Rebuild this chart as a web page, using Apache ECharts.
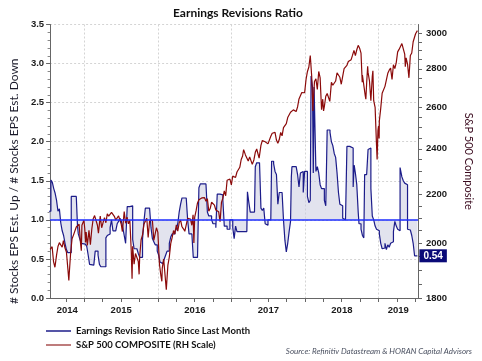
<!DOCTYPE html>
<html><head><meta charset="utf-8">
<script src="https://cdn.jsdelivr.net/npm/echarts@6/dist/echarts.min.js"></script>
<style>html,body{margin:0;padding:0;background:#fff}#c{width:482px;height:361px}</style>
</head><body><div id="c"></div>
<script>
// ---- data ----
const ratioDates = ['2014-07-07','2014-07-18','2014-07-25','2014-08-01','2014-08-08','2014-08-15','2014-08-22','2014-08-29','2014-09-05','2014-09-12','2014-09-19','2014-09-26','2014-10-03','2014-10-10','2014-10-27','2014-11-07','2014-11-21','2014-11-27','2014-12-01','2014-12-08','2014-12-15','2014-12-22','2015-01-05','2015-01-12','2015-01-19','2015-01-26','2015-02-02','2015-02-16','2015-02-23','2015-03-02','2015-03-09','2015-03-16','2015-03-23','2015-04-06','2015-04-17','2015-04-24','2015-05-01','2015-05-08','2015-05-15','2015-05-22','2015-06-05','2015-06-12','2015-06-19','2015-06-26','2015-07-03','2015-07-10','2015-07-17','2015-07-24','2015-08-01','2015-08-14','2015-08-28','2015-09-04','2015-09-18','2015-09-25','2015-10-02','2015-10-09','2015-10-16','2015-10-23','2015-10-30','2015-11-20','2015-11-27','2015-12-04','2015-12-11','2015-12-18','2015-12-28','2016-01-04','2016-01-11','2016-01-18','2016-01-25','2016-02-01','2016-02-08','2016-02-15','2016-02-26','2016-03-04','2016-03-11','2016-03-25','2016-04-01','2016-04-08','2016-04-15','2016-04-22','2016-04-29','2016-05-20','2016-05-27','2016-06-03','2016-06-17','2016-06-24','2016-07-15','2016-07-22','2016-07-29','2016-08-26','2016-09-02','2016-09-09','2016-09-23','2016-09-30','2016-10-14','2016-10-21','2016-11-04','2016-11-18','2016-11-25','2016-12-09','2016-12-23','2017-01-06','2017-01-13','2017-01-20','2017-01-27','2017-03-17','2017-03-20','2017-03-27','2017-04-03','2017-04-24','2017-04-28','2017-05-05','2017-05-19','2017-05-26','2017-06-02','2017-06-09','2017-06-16','2017-06-23','2017-06-30','2017-07-14','2017-07-18','2017-07-28','2017-08-04','2017-08-11','2017-08-18','2017-08-25','2017-09-08','2017-09-15','2017-09-22','2017-09-29','2017-10-06','2017-10-13','2017-10-20','2017-10-24','2017-10-27','2017-11-17','2017-11-24','2017-12-01','2017-12-08','2017-12-15','2017-12-22','2017-12-29','2018-01-05','2018-01-12','2018-01-19','2018-01-26','2018-01-30','2018-02-06','2018-02-10','2018-02-14','2018-02-20','2018-02-23','2018-03-02','2018-03-09','2018-03-16','2018-03-23','2018-04-06','2018-04-13','2018-04-20','2018-05-04','2018-05-11','2018-05-18','2018-05-25','2018-06-01','2018-06-08','2018-06-15','2018-06-22','2018-06-29','2018-07-06','2018-07-13','2018-07-20','2018-07-27','2018-08-10','2018-08-17','2018-08-27','2018-09-01','2018-09-07','2018-09-14','2018-09-21','2018-09-25','2018-10-05','2018-10-12','2018-10-19','2018-10-23','2018-11-02','2018-11-09','2018-11-16','2018-11-23','2018-11-30','2018-12-07','2018-12-14','2018-12-21','2018-12-28','2019-01-04','2019-01-11','2019-01-18','2019-01-25','2019-02-01','2019-02-08','2019-02-15','2019-02-22','2019-03-01','2019-03-08','2019-03-15','2019-03-22','2019-03-29','2019-04-05','2019-04-12','2019-04-17','2019-04-26','2019-05-03','2019-05-10','2019-05-17','2019-05-24','2019-05-31','2019-06-07','2019-06-14','2019-06-21','2019-06-28','2019-07-12'];
const ratioValues = [1.11,1.51,1.48,1.40,1.34,1.25,1.11,1.14,0.96,0.86,0.80,0.70,0.62,0.58,1.30,1.30,1.29,0.92,0.82,0.76,0.70,0.69,0.67,0.66,0.55,0.43,0.42,0.43,0.60,0.60,0.55,0.43,0.40,0.40,0.77,0.80,0.82,0.90,1.00,0.86,0.85,0.95,0.98,1.02,0.98,0.90,0.80,0.70,1.17,1.18,0.75,0.63,0.62,0.57,0.52,0.52,0.75,0.98,1.15,1.15,0.90,0.76,0.72,0.68,0.60,0.55,0.46,0.44,0.45,0.50,0.55,0.60,0.70,0.78,0.82,0.85,0.88,0.95,1.10,1.20,1.28,1.28,1.00,0.82,0.80,0.52,0.52,1.41,1.46,1.46,1.10,1.05,1.00,0.95,0.90,1.33,1.32,1.25,0.92,0.88,1.00,0.90,0.76,0.92,0.85,0.85,1.36,1.22,1.10,1.10,1.68,1.73,1.73,1.15,1.12,1.15,0.95,0.93,1.00,1.00,1.75,1.72,1.62,1.58,1.20,1.35,1.35,1.00,0.74,0.59,0.70,0.85,0.98,1.55,1.68,1.68,1.58,1.42,1.60,1.62,1.35,1.62,1.62,1.30,1.22,1.25,2.84,2.70,1.60,2.70,2.68,1.62,1.68,1.60,1.45,1.40,1.25,1.18,2.15,2.12,2.00,1.95,1.85,1.80,1.60,1.35,1.20,1.18,1.02,1.00,1.02,1.94,1.95,1.92,1.42,1.70,1.60,1.45,1.10,0.95,0.88,0.80,0.77,1.58,1.58,1.90,1.92,1.40,1.05,1.00,0.92,0.88,0.86,0.82,0.70,0.63,0.64,0.70,0.62,0.68,0.65,0.70,0.72,0.85,0.98,0.92,0.88,0.86,1.67,1.55,1.50,1.47,1.45,0.88,0.87,0.86,0.80,0.70,0.54,0.54];
const spxDates = ['2014-07-14','2014-07-18','2014-07-24','2014-07-31','2014-08-07','2014-08-15','2014-08-22','2014-08-29','2014-09-05','2014-09-12','2014-09-18','2014-09-26','2014-10-03','2014-10-10','2014-10-15','2014-10-17','2014-10-24','2014-10-31','2014-11-07','2014-11-14','2014-11-21','2014-11-28','2014-12-05','2014-12-12','2014-12-16','2014-12-19','2014-12-29','2015-01-02','2015-01-06','2015-01-09','2015-01-15','2015-01-23','2015-01-30','2015-02-06','2015-02-13','2015-02-20','2015-02-27','2015-03-06','2015-03-11','2015-03-20','2015-03-27','2015-04-02','2015-04-10','2015-04-17','2015-04-24','2015-05-01','2015-05-08','2015-05-15','2015-05-21','2015-05-29','2015-06-05','2015-06-12','2015-06-19','2015-06-26','2015-07-02','2015-07-08','2015-07-17','2015-07-24','2015-07-31','2015-08-07','2015-08-14','2015-08-21','2015-08-25','2015-08-28','2015-09-04','2015-09-11','2015-09-18','2015-09-25','2015-09-29','2015-10-02','2015-10-09','2015-10-16','2015-10-23','2015-10-30','2015-11-06','2015-11-13','2015-11-20','2015-11-27','2015-12-04','2015-12-11','2015-12-18','2015-12-24','2015-12-31','2016-01-08','2016-01-15','2016-01-20','2016-01-22','2016-01-29','2016-02-05','2016-02-11','2016-02-19','2016-02-26','2016-03-04','2016-03-11','2016-03-18','2016-03-24','2016-04-01','2016-04-08','2016-04-15','2016-04-22','2016-04-29','2016-05-06','2016-05-13','2016-05-19','2016-05-27','2016-06-03','2016-06-10','2016-06-17','2016-06-23','2016-06-27','2016-07-01','2016-07-08','2016-07-15','2016-07-22','2016-07-29','2016-08-05','2016-08-12','2016-08-19','2016-08-26','2016-09-02','2016-09-09','2016-09-16','2016-09-23','2016-09-30','2016-10-07','2016-10-14','2016-10-21','2016-10-28','2016-11-04','2016-11-11','2016-11-18','2016-11-25','2016-12-02','2016-12-09','2016-12-16','2016-12-23','2016-12-30','2017-01-06','2017-01-13','2017-01-20','2017-01-27','2017-02-03','2017-02-10','2017-02-17','2017-02-24','2017-03-01','2017-03-10','2017-03-17','2017-03-24','2017-03-31','2017-04-07','2017-04-13','2017-04-21','2017-04-28','2017-05-05','2017-05-12','2017-05-17','2017-05-26','2017-06-02','2017-06-09','2017-06-16','2017-06-23','2017-06-30','2017-07-07','2017-07-14','2017-07-21','2017-07-28','2017-08-04','2017-08-11','2017-08-18','2017-08-25','2017-09-01','2017-09-08','2017-09-15','2017-09-22','2017-09-29','2017-10-06','2017-10-13','2017-10-20','2017-10-27','2017-11-03','2017-11-10','2017-11-17','2017-11-24','2017-12-01','2017-12-08','2017-12-15','2017-12-22','2017-12-29','2018-01-05','2018-01-12','2018-01-19','2018-01-26','2018-02-02','2018-02-08','2018-02-09','2018-02-16','2018-02-23','2018-03-02','2018-03-09','2018-03-16','2018-03-23','2018-03-29','2018-04-02','2018-04-06','2018-04-13','2018-04-20','2018-04-27','2018-05-03','2018-05-11','2018-05-18','2018-05-25','2018-06-01','2018-06-08','2018-06-15','2018-06-22','2018-06-29','2018-07-06','2018-07-13','2018-07-20','2018-07-27','2018-08-03','2018-08-10','2018-08-17','2018-08-24','2018-08-31','2018-09-07','2018-09-14','2018-09-21','2018-09-28','2018-10-05','2018-10-11','2018-10-12','2018-10-19','2018-10-26','2018-10-29','2018-11-02','2018-11-07','2018-11-09','2018-11-16','2018-11-23','2018-11-30','2018-12-03','2018-12-07','2018-12-14','2018-12-21','2018-12-24','2018-12-28','2018-12-31','2019-01-03','2019-01-04','2019-01-11','2019-01-18','2019-01-25','2019-02-01','2019-02-08','2019-02-15','2019-02-22','2019-03-01','2019-03-08','2019-03-15','2019-03-22','2019-03-29','2019-04-05','2019-04-12','2019-04-18','2019-04-26','2019-05-03','2019-05-10','2019-05-13','2019-05-17','2019-05-24','2019-05-31','2019-06-07','2019-06-14','2019-06-21','2019-06-28','2019-07-03','2019-07-12'];
const spxValues = [1977,1978,1987,1931,1910,1955,1988,2003,2007,1985,2011,1982,1967,1906,1862,1886,1964,2018,2032,2039,2064,2068,2075,2002,1972,2071,2091,2058,2003,2044,1992,2051,1995,2055,2097,2110,2104,2071,2040,2108,2061,2067,2102,2081,2117,2108,2116,2123,2131,2107,2092,2094,2109,2101,2076,2046,2126,2079,2104,2077,2091,1971,1868,1989,1921,1961,1958,1931,1884,1951,2014,2033,2075,2079,2099,2023,2089,2090,2091,2012,2005,2061,2044,1922,1880,1859,1907,1940,1880,1829,1918,1948,1999,2022,2050,2036,2073,2048,2081,2092,2065,2057,2047,2040,2099,2099,2096,2071,2113,2001,2103,2130,2162,2175,2174,2183,2184,2184,2169,2180,2128,2139,2165,2168,2153,2133,2141,2126,2085,2164,2182,2213,2192,2259,2258,2264,2239,2277,2275,2271,2295,2297,2316,2351,2367,2396,2372,2378,2344,2363,2355,2329,2349,2384,2399,2391,2357,2416,2439,2432,2433,2438,2423,2425,2459,2473,2472,2477,2441,2426,2443,2477,2461,2500,2502,2519,2549,2553,2575,2581,2587,2582,2579,2602,2642,2652,2675,2683,2674,2743,2786,2810,2873,2762,2581,2620,2732,2747,2691,2786,2752,2588,2641,2582,2604,2656,2670,2670,2630,2728,2713,2721,2735,2779,2780,2755,2718,2760,2801,2802,2819,2840,2833,2850,2875,2902,2872,2905,2930,2914,2886,2729,2767,2768,2659,2641,2723,2814,2781,2736,2633,2760,2790,2633,2600,2417,2351,2486,2507,2448,2532,2596,2671,2665,2707,2708,2776,2793,2804,2743,2822,2801,2834,2893,2907,2905,2940,2946,2881,2812,2860,2826,2752,2873,2887,2950,2942,2996,3014];
const xMinDate = '2014-07-14';
const xMaxDate = '2019-07-15';
const yearGridDates = ['2015-01-01','2016-01-01','2017-01-01','2018-01-01','2019-01-01'];
const quarterTickDates = ['2014-10-01','2015-01-01','2015-04-01','2015-07-01','2015-10-01','2016-01-01','2016-04-01','2016-07-01','2016-10-01','2017-01-01','2017-04-01','2017-07-01','2017-10-01','2018-01-01','2018-04-01','2018-07-01','2018-10-01','2019-01-01','2019-04-01','2019-07-01'];
const yearLabelDates = ['2014-10-07','2015-07-02','2016-07-02','2017-07-02','2018-07-02','2019-04-08'];
const yearLabels = ['2014','2015','2016','2017','2018','2019'];
const rightLabelValues = [1800,2000,2200,2400,2600,2800,3000];
const rightTickValues = [1800,1850,1900,1950,2000,2050,2100,2150,2200,2250,2300,2350,2400,2450,2500,2550,2600,2650,2700,2750,2800,2850,2900,2950,3000];

// ---- chart ----
const ts = d => Date.parse(d + 'T00:00:00Z');
const ratioData = ratioDates.map((d, i) => [ts(d), ratioValues[i]]);
const spxData = spxDates.map((d, i) => [ts(d), spxValues[i]]);
const yearLabelTs = yearLabelDates.map(ts);
const numFont = 'Liberation Sans';
const txtFont = 'Lato';
const navy = '#1c1c8a';
const maroon = '#8b0a0a';
const xBase = {
  type: 'value', min: ts(xMinDate), max: ts(xMaxDate), position: 'bottom', gridIndex: 0, scale: true
};
const chart = echarts.init(document.getElementById('c'), null, {renderer: 'canvas'});
chart.setOption({
  animation: false,
  backgroundColor: '#fff',
  title: {text: 'Earnings Revisions Ratio', left: 168, top: 2,
    textStyle: {fontFamily: txtFont, fontSize: 12, fontWeight: 'bold', color: '#111'}},
  grid: {left: 40, right: 61, top: 24.5, bottom: 63, containLabel: false},
  legend: {
    orient: 'vertical', left: 41, top: 321, itemGap: 4, itemWidth: 25, itemHeight: 1.5,
    textStyle: {fontFamily: txtFont, fontSize: 9.5, fontWeight: 'bold', color: '#111'},
    data: [
      {name: 'Earnings Revision Ratio Since Last Month', icon: 'rect', itemStyle: {color: navy}},
      {name: 'S&P 500 COMPOSITE (RH Scale)', icon: 'rect', itemStyle: {color: '#a85050'}}
    ]
  },
  xAxis: [Object.assign({}, xBase, {
    axisLine: {show: true, onZero: false, lineStyle: {color: '#666', width: 1}},
    axisTick: {show: true, length: 4, customValues: yearGridDates.map(ts), lineStyle: {color: '#666'}},
    axisLabel: {customValues: yearLabelTs, margin: 7,
      formatter: v => {
        let best = 0;
        yearLabelTs.forEach((t, i) => { if (Math.abs(t - v) < Math.abs(yearLabelTs[best] - v)) best = i; });
        return yearLabels[best];
      },
      fontFamily: numFont, fontSize: 9.5, fontWeight: 'bold', color: '#1a1a1a'},
    splitLine: {show: true, lineStyle: {color: '#d4d4d4', type: [2, 2], width: 1}}
  }), Object.assign({}, xBase, {
    axisLine: {show: false, onZero: false},
    axisTick: {show: true, length: 4, customValues: quarterTickDates.map(ts), lineStyle: {color: '#666'}},
    axisLabel: {show: false},
    splitLine: {show: false}
  })],
  yAxis: [{
    type: 'value', min: 0, max: 3.5, interval: 0.5, position: 'left',
    name: '# Stocks EPS Est. Up / # Stocks EPS Est. Down', nameLocation: 'middle', nameGap: 25,
    nameTextStyle: {fontFamily: txtFont, fontSize: 12, color: '#1a1a2a', padding: [0, 40, 0, 0]},
    axisLine: {show: true, lineStyle: {color: '#666'}},
    axisTick: {show: true, length: 4, lineStyle: {color: '#666'}},
    minorTick: {show: true, splitNumber: 5, length: 2.5, lineStyle: {color: '#888'}},
    axisLabel: {formatter: v => v.toFixed(1), margin: 6, fontFamily: numFont, fontSize: 9.5, fontWeight: 'bold', color: '#1a1a1a'},
    splitLine: {show: true, lineStyle: {color: '#d4d4d4', type: [2, 2], width: 1}}
  }, {
    type: 'log', logBase: 10, min: 1800, max: 3050, position: 'right',
    name: 'S&P 500 Composite', nameLocation: 'middle', nameGap: 45, nameRotate: -90,
    nameTextStyle: {fontFamily: txtFont, fontSize: 11, color: '#3a0a1e'},
    axisLine: {show: true, lineStyle: {color: '#666'}},
    axisTick: {show: true, length: 4, customValues: rightTickValues, lineStyle: {color: '#666'}},
    axisLabel: {customValues: rightLabelValues, margin: 8, formatter: v => String(Math.round(v)),
      fontFamily: numFont, fontSize: 9.5, fontWeight: 'bold', color: '#1a1a1a'},
    splitLine: {show: false}
  }],
  series: [{
    name: 'Earnings Revision Ratio Since Last Month', type: 'line', xAxisIndex: 0, yAxisIndex: 0,
    step: 'end', symbol: 'none', data: ratioData,
    lineStyle: {color: navy, width: 1.2},
    itemStyle: {color: navy},
    areaStyle: {origin: 1, color: 'rgba(200,202,222,0.75)'},
    endLabel: {show: true, distance: 2, formatter: p => p.value[1].toFixed(2),
      backgroundColor: '#0a0a78', color: '#fff', fontFamily: numFont, fontWeight: 'bold', fontSize: 10, padding: [2, 4, 1, 4]},
    markLine: {silent: true, symbol: ['none', 'none'], label: {show: false},
      lineStyle: {color: '#1f2fff', width: 1.5, type: 'solid'}, data: [{yAxis: 1}], z: 5}
  }, {
    name: 'S&P 500 COMPOSITE (RH Scale)', type: 'line', xAxisIndex: 0, yAxisIndex: 1,
    symbol: 'none', data: spxData,
    lineStyle: {color: maroon, width: 1.2},
    itemStyle: {color: maroon}
  }],
  graphic: [{
    type: 'text', right: 10, top: 347,
    style: {text: 'Source: Refinitiv Datastream & HORAN Capital Advisors', font: 'italic 8px Lato', fill: '#4a5060'}
  }]
});
</script></body></html>
